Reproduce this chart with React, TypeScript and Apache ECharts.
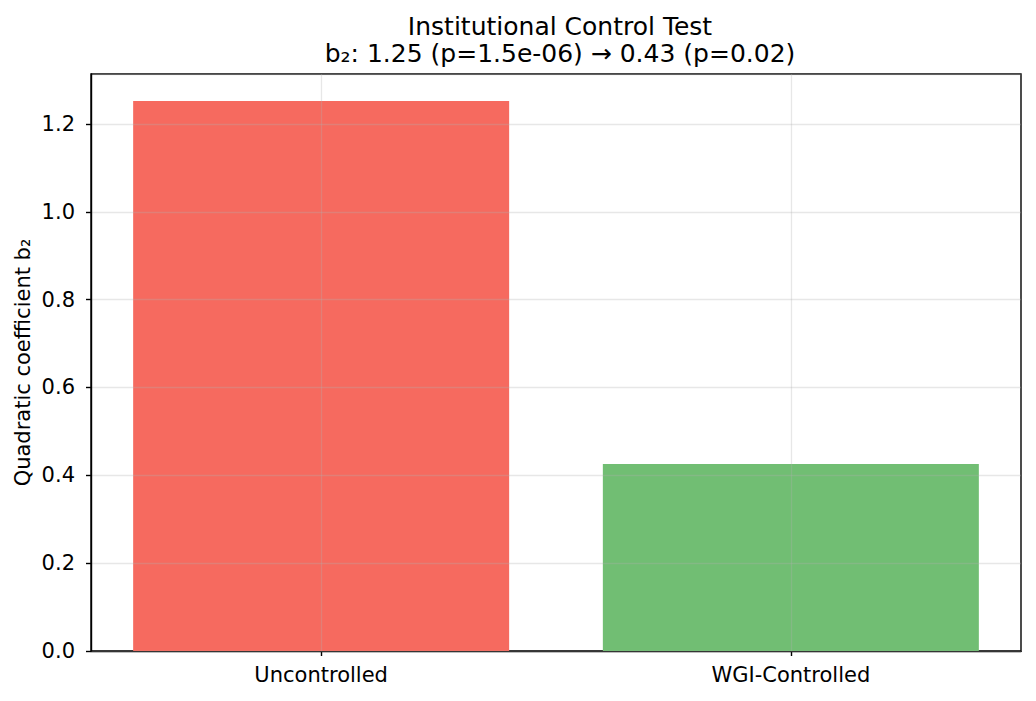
import React, { useEffect, useRef } from 'react'
import * as echarts from 'echarts'

const categories = ['Uncontrolled', 'WGI-Controlled']
const coefficients = [1.2523, 0.4258]
const barColors = ['#F66A5F', '#71BE73']
const yTicks = [0, 0.2, 0.4, 0.6, 0.8, 1.0, 1.2]

const FONT = 'DejaVu Sans'
const GRID_COLOR = 'rgba(176,176,176,0.3)'

export default function App(): JSX.Element {
  const chartRef = useRef<HTMLDivElement>(null)

  useEffect(() => {
    document.body.style.margin = '0'
    if (!chartRef.current) return
    const chart = echarts.init(chartRef.current, undefined, { renderer: 'svg' })

    chart.setOption({
      animation: false,
      textStyle: { fontFamily: FONT },
      title: {
        text: 'Institutional Control Test\nb₂: 1.25 (p=1.5e-06) → 0.43 (p=0.02)',
        left: 555,
        top: 8,
        textAlign: 'center',
        textStyle: { fontFamily: FONT, fontSize: 25, fontWeight: 'normal', color: '#000', lineHeight: 27 },
      },
      grid: {
        left: 91,
        right: 15,
        top: 74,
        bottom: 50,
        show: true,
        borderColor: '#000',
        borderWidth: 1.4,
        backgroundColor: 'transparent',
      },
      xAxis: {
        type: 'value',
        min: -0.49,
        max: 1.49,
        axisLine: { show: true, onZero: false, lineStyle: { color: '#000', width: 1.4 } },
        axisTick: {
          show: true,
          length: 5,
          lineStyle: { color: '#000', width: 1.4 },
          customValues: [0, 1],
        },
        axisLabel: {
          customValues: [0, 1],
          formatter: (v: number) => categories[Math.round(v)] ?? '',
          fontFamily: FONT,
          fontSize: 21,
          color: '#000',
          margin: 13,
        },
        splitLine: { show: false },
      },
      yAxis: {
        type: 'value',
        min: 0,
        max: 1.3137,
        interval: 0.2,
        z: 5,
        name: 'Quadratic coefficient b₂',
        nameLocation: 'middle',
        nameGap: 58,
        nameMoveOverlap: false,
        nameTextStyle: { fontFamily: FONT, fontSize: 21, color: '#000' },
        axisLine: { show: true, onZero: false, lineStyle: { color: '#000', width: 1.4 } },
        axisTick: { show: true, length: 5, lineStyle: { color: '#000', width: 1.4 } },
        axisLabel: {
          fontFamily: FONT,
          fontSize: 21,
          color: '#000',
          margin: 16,
          showMaxLabel: false,
          formatter: (v: number) => (yTicks.some((t) => Math.abs(t - v) < 1e-6) ? v.toFixed(1) : ''),
        },
        splitLine: { show: true, lineStyle: { color: GRID_COLOR, width: 1.3 } },
      },
      series: [
        {
          type: 'bar',
          barWidth: 376,
          data: coefficients.map((v, i) => ({
            value: [i, v],
            itemStyle: { color: barColors[i] },
          })),
          markLine: {
            silent: true,
            symbol: 'none',
            label: { show: false },
            lineStyle: { color: GRID_COLOR, width: 1.3, type: 'solid' },
            data: categories.map((_, i) => ({ xAxis: i })),
          },
        },
      ],
    })

    return () => {
      chart.dispose()
    }
  }, [])

  return <div ref={chartRef} style={{ width: 1036, height: 701 }} />
}
